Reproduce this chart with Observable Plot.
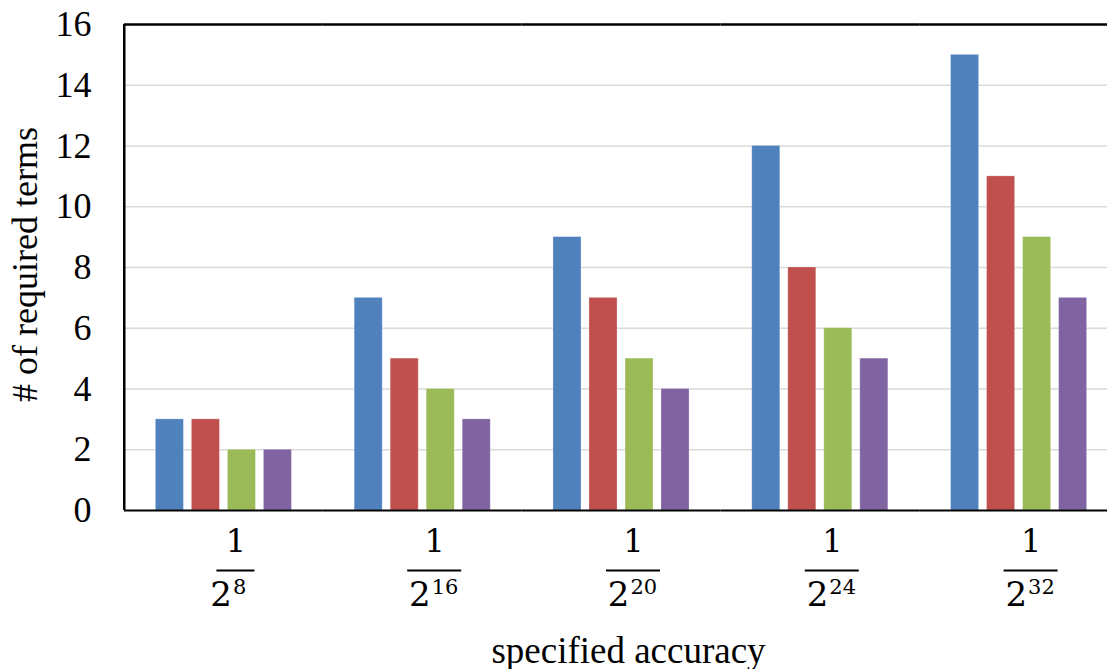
<!DOCTYPE html>
<html>
<head>
<meta charset="utf-8">
<script src="https://cdn.jsdelivr.net/npm/d3@7"></script>
<script src="https://cdn.jsdelivr.net/npm/@observablehq/plot@0.6"></script>
<style>
  html, body { margin: 0; padding: 0; background: #fff; overflow: hidden; }
  #chart { width: 1107px; height: 669px; overflow: hidden; }
  #chart svg { max-width: none !important; }
</style>
</head>
<body>
<div id="chart"></div>
<script>
// categories (specified accuracy = 1 / 2^n)
const exponents = ["8", "16", "20", "24", "32"];
const series = ["Series 1", "Series 2", "Series 3", "Series 4"];
const colors = ["#4F81BD", "#C0504D", "#9BBB59", "#8064A2"];
// series values (# of required terms)
const series1 = [3, 7, 9, 12, 15];
const series2 = [3, 5, 7, 8, 11];
const series3 = [2, 4, 5, 6, 9];
const series4 = [2, 3, 4, 5, 7];
const yTicks = [0, 2, 4, 6, 8, 10, 12, 14, 16];
const yLabel = "# of required terms";
const xLabel = "specified accuracy";

const allSeries = [series1, series2, series3, series4];
const data = [];
exponents.forEach((e, i) => {
  series.forEach((s, j) => data.push({group: e, series: s, value: allSeries[j][i]}));
});
const groupsData = exponents.map(e => ({group: e}));
const oneDigit = groupsData.filter(d => d.group.length === 1);
const twoDigit = groupsData.filter(d => d.group.length === 2);

const W = 1118, H = 669, ML = 124, MT = 24, MB = 159;
const facetW = (W - ML) / exponents.length;
const off = 12; // fraction label offset from group center
const center = facetW / 2 + off;
const fracFont = "DejaVu Serif";
const serif = "Liberation Serif";

const chart = Plot.plot({
  width: W,
  height: H,
  marginLeft: ML,
  marginRight: 0,
  marginTop: MT,
  marginBottom: MB,
  style: {fontFamily: serif, fontSize: "36px", background: "#fff", overflow: "visible", color: "#000", maxWidth: "none"},
  fx: {domain: exponents, paddingInner: 0, paddingOuter: 0, round: false, axis: null, label: null},
  x: {domain: series, paddingInner: 0.222, paddingOuter: 0.871, round: false, axis: null, label: null},
  y: {domain: [0, 16], axis: null, label: null},
  color: {domain: series, range: colors},
  marks: [
    Plot.gridY(yTicks.filter(t => t > 0 && t < 16), {stroke: "#d9d9d9", strokeOpacity: 1, strokeWidth: 1.6}),
    Plot.barY(data, {fx: "group", x: "series", y: "value", fill: "series", stroke: "#ffffff", strokeOpacity: 0.3, strokeWidth: 0.8}),
    Plot.ruleY([0], {stroke: "#000", strokeWidth: 2.2}),
    Plot.ruleY([16], {stroke: "#000", strokeWidth: 2.4}),
    // left frame line (first facet only)
    Plot.rect([groupsData[0]], {fx: "group", y1: 0, y2: 16, fill: "#000", insetLeft: -1, insetRight: facetW - 1.5}),
    Plot.axisY({ticks: yTicks, tickSize: 0, tickPadding: 33, fontSize: 36, fontFamily: serif, label: null, fill: "#000"}),
    // y label
    Plot.text([groupsData[0]], {fx: "group", text: () => yLabel, frameAnchor: "left", rotate: -90, dx: -99, dy: -3, fontSize: 36, fontFamily: serif, textAnchor: "middle", lineAnchor: "middle", fill: "#000"}),
    // x label
    Plot.text([groupsData[2]], {fx: "group", text: () => xLabel, frameAnchor: "bottom", dx: 7, dy: 152, fontSize: 37, fontFamily: serif, textAnchor: "middle", lineAnchor: "bottom", fill: "#000"}),
    // fraction tick labels 1 / 2^n
    Plot.text(groupsData, {fx: "group", text: () => "1", frameAnchor: "bottom", dx: off, dy: 41, fontSize: 32, fontFamily: fracFont, textAnchor: "middle", lineAnchor: "bottom", fill: "#000"}),
    Plot.ruleY(oneDigit, {fx: "group", y: () => 0, dy: 60, stroke: "#000", strokeWidth: 2, insetLeft: center - 19, insetRight: facetW - center - 19}),
    Plot.ruleY(twoDigit, {fx: "group", y: () => 0, dy: 60, stroke: "#000", strokeWidth: 2, insetLeft: center - 27, insetRight: facetW - center - 27}),
    Plot.text(groupsData, {fx: "group", text: () => "2", frameAnchor: "bottom", dx: off - 4, dy: 95, fontSize: 34, fontFamily: fracFont, textAnchor: "end", lineAnchor: "bottom", fill: "#000"}),
    Plot.text(groupsData, {fx: "group", text: "group", frameAnchor: "bottom", dx: off - 3, dy: 83, fontSize: 21, fontFamily: fracFont, textAnchor: "start", lineAnchor: "bottom", fill: "#000"})
  ]
});
document.getElementById("chart").appendChild(chart);
</script>
</body>
</html>
